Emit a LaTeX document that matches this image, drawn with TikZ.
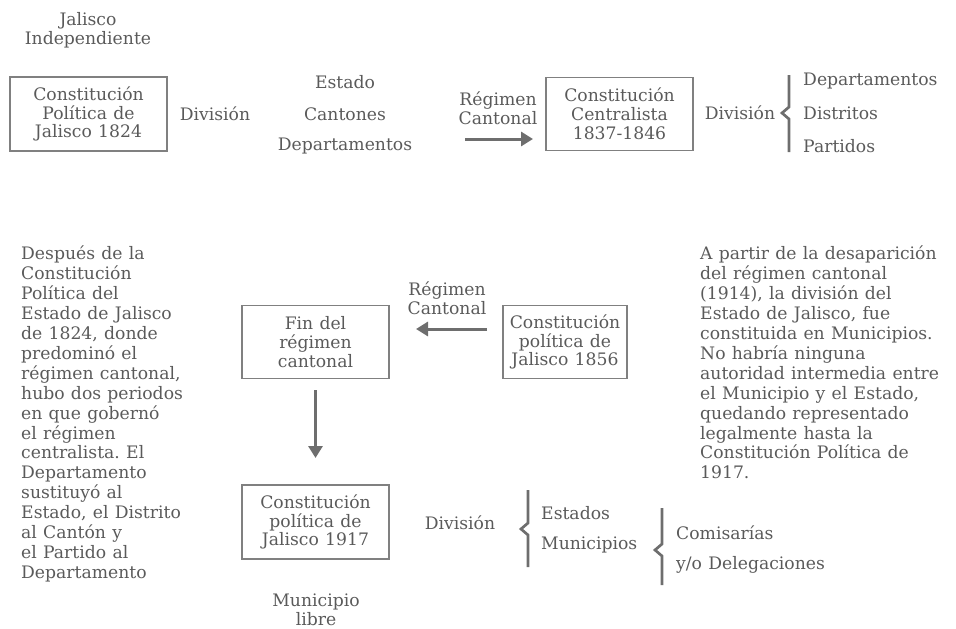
\documentclass[tikz,border=0pt]{standalone}
\usepackage{fontspec}
\setmainfont{DejaVu Serif}[WordSpace={1.15}]
\frenchspacing
\usetikzlibrary{arrows.meta}
\definecolor{tcol}{HTML}{5A5A5A}
\definecolor{bcol}{HTML}{808080}
\definecolor{acol}{HTML}{6E6E6E}
\newcommand{\fsz}{\fontsize{17.2}{18.8}\selectfont}
\newcommand{\fpz}{\fontsize{17.2}{19.9}\selectfont}
\begin{document}
\begin{tikzpicture}[x=1pt,y=-1pt,
 lbl/.style={font=\fsz, text=tcol, align=center, inner sep=0pt},
 para/.style={font=\fpz, text=tcol, align=left, inner sep=0pt, anchor=north west},
 item/.style={font=\fsz, text=tcol, inner sep=0pt, anchor=west},
 box/.style={draw=bcol, line width=1.1pt, font=\fsz, text=tcol, align=center, inner sep=0pt, minimum width=147pt, minimum height=73pt},
 arr/.style={draw=acol, line width=3pt, -{Triangle[length=12pt,width=14pt]}},
 brc/.style={draw=acol, line width=2.7pt, line join=miter}]
\useasboundingbox (0,0) rectangle (956,629);
% top row
\node[lbl] (jal) at (88,30) {Jalisco\\Independiente};
\node[box, minimum width=157pt, minimum height=74pt] (c1824) at (88.5,114) {Constitución\\Política de\\Jalisco 1824};
\node[lbl] (div1) at (215,114) {División};
\node[lbl] (estado) at (345,82) {Estado};
\node[lbl] (cantones) at (345,114) {Cantones};
\node[lbl] (deps1) at (345,146) {Departamentos};
\node[lbl] (reg1) at (498,108) {Régimen\\Cantonal};
\node[box] (c1837) at (619.5,114) {Constitución\\Centralista\\1837-1846};
\coordinate (a1s) at (465,139);
\coordinate (a1e) at (533,139);
\draw[arr] (a1s) -- (a1e);
\node[lbl] (div2) at (740,113) {División};
\coordinate (b2t) at (789,75);
\coordinate (b2b) at (789,152);
\draw[brc] (b2t) -- (789,107) -- (782,113) -- (789,119) -- (b2b);
\node[item] (dep2) at (803,81) {Departamentos};
\node[item] (distr) at (803,113) {Distritos};
\node[item] (part) at (803,146) {Partidos};
% middle row
\node[para] (p1) at (21,246) {Después de la\\Constitución\\Política del\\Estado de Jalisco\\de 1824, donde\\predominó el\\régimen cantonal,\\hubo dos periodos\\en que gobernó\\el régimen\\centralista. El\\Departamento\\sustituyó al\\Estado, el Distrito\\al Cantón y\\el Partido al\\Departamento};
\node[box] (fin) at (315.5,342) {Fin del\\régimen\\cantonal};
\node[lbl] (reg2) at (447,298) {Régimen\\Cantonal};
\node[box, minimum width=124pt] (c1856) at (565,342) {Constitución\\política de\\Jalisco 1856};
\coordinate (a2s) at (487,329);
\coordinate (a2e) at (416,329);
\draw[arr] (a2s) -- (a2e);
\node[para] (p2) at (700,246) {A partir de la desaparición\\del régimen cantonal\\(1914), la división del\\Estado de Jalisco, fue\\constituida en Municipios.\\No habría ninguna\\autoridad intermedia entre\\el Municipio y el Estado,\\quedando representado\\legalmente hasta la\\Constitución Política de\\1917.};
% bottom
\node[box, minimum height=74pt] (c1917) at (315.5,522) {Constitución\\política de\\Jalisco 1917};
\draw[arr] (fin.south |- 0,390) -- (fin.south |- 0,458);
\node[lbl] (mun) at (316,610) {Municipio\\libre};
\node[lbl] (div3) at (460,523) {División};
\draw[brc] (528,490) -- (528,523) -- (521,529) -- (528,535) -- (528,567);
\node[item] (edos) at (541,513) {Estados};
\node[item] (mpios) at (541,545) {Municipios};
\draw[brc] (662,508) -- (662,544) -- (655,550) -- (662,556) -- (662,585);
\node[item] (comis) at (676,533) {Comisarías};
\node[item] (deleg) at (676,565) {y/o Delegaciones};
\end{tikzpicture}
\end{document}
